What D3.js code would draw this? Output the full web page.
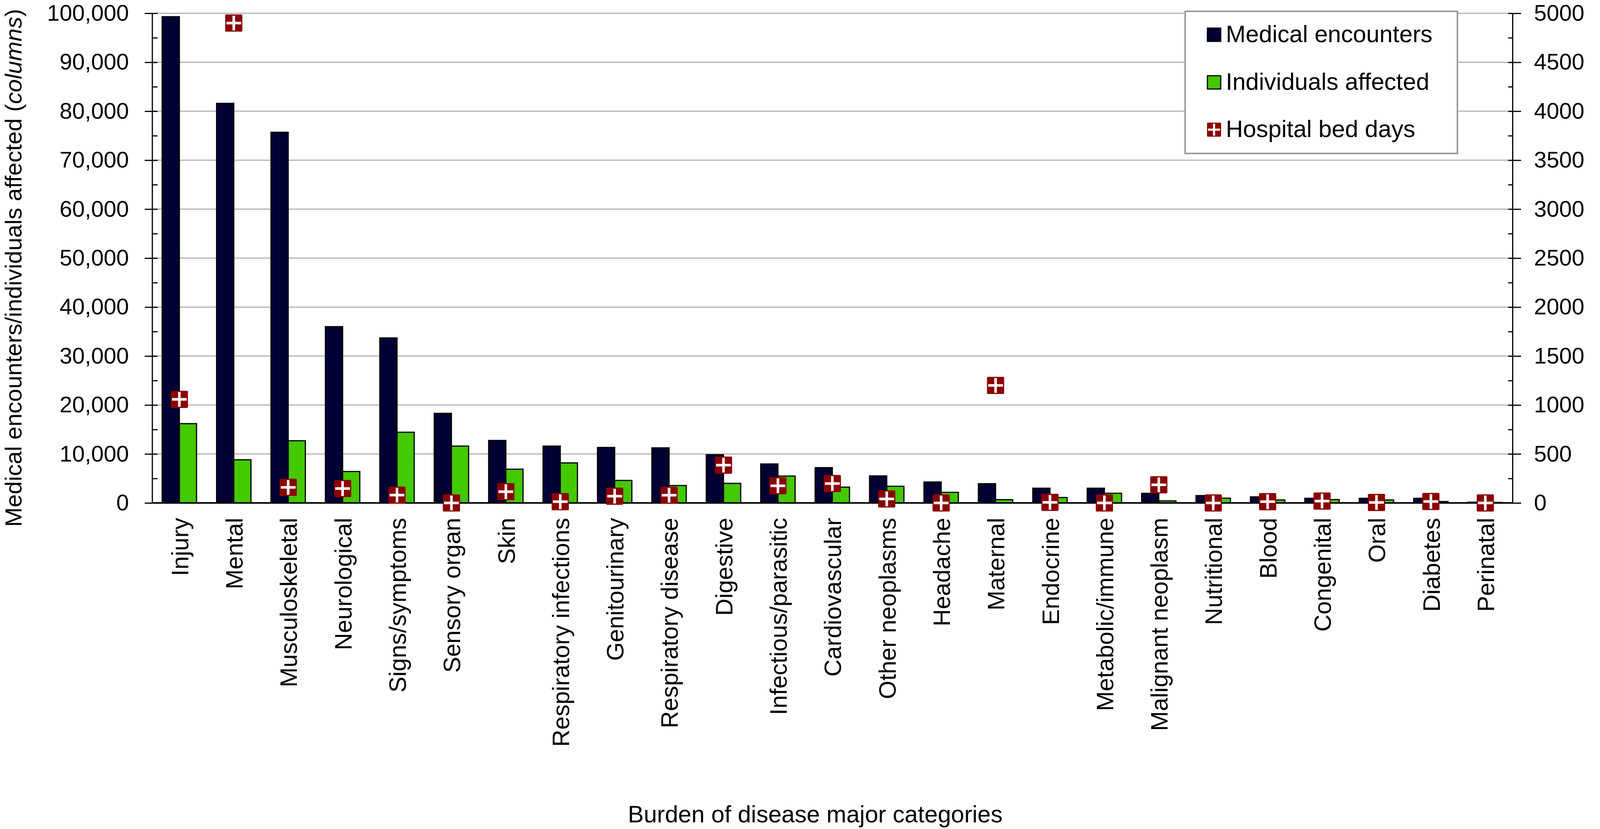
<!DOCTYPE html>
<html>
<head>
<meta charset="utf-8">
<script src="https://cdn.jsdelivr.net/npm/d3@7"></script>
<style>
  html, body { margin: 0; padding: 0; background: #ffffff; overflow: hidden; }
  svg { display: block; }
  text { font-family: "Liberation Sans", Arial, Helvetica, sans-serif; fill: #000; }
</style>
</head>
<body>
<svg id="chart" width="4210" height="2123" viewBox="0 0 4210 2123"></svg>
<script>
// ---------------- DATA ----------------
const categories = ["Injury", "Mental", "Musculoskeletal", "Neurological", "Signs/symptoms",
  "Sensory organ", "Skin", "Respiratory infections", "Genitourinary", "Respiratory disease",
  "Digestive", "Infectious/parasitic", "Cardiovascular", "Other neoplasms", "Headache",
  "Maternal", "Endocrine", "Metabolic/immune", "Malignant neoplasm", "Nutritional",
  "Blood", "Congenital", "Oral", "Diabetes", "Perinatal"];

const medicalEncounters = [99300, 81600, 75700, 36000, 33700, 18300, 12760, 11610, 11330, 11250,
  9840, 7960, 7210, 5520, 4280, 3930, 3010, 3010, 1960, 1500, 1240, 950, 950, 950, 150];

const individualsAffected = [16200, 8810, 12700, 6420, 14440, 11610, 6890, 8180, 4600, 3560,
  4000, 5490, 3230, 3410, 2160, 675, 1110, 1980, 420, 975, 610, 690, 610, 290, 100];

const hospitalBedDays = [1058, 4900, 159, 147, 80, 0, 115, 13, 69, 79,
  386, 175, 198, 41, 0, 1200, 6, 0, 185, 0, 13, 19, 5, 15, 0];

const leftTicks = [0, 10000, 20000, 30000, 40000, 50000, 60000, 70000, 80000, 90000, 100000];
const leftMinorTicks = [5000, 15000, 25000, 35000, 45000, 55000, 65000, 75000, 85000, 95000];
const rightTicks = [0, 500, 1000, 1500, 2000, 2500, 3000, 3500, 4000, 4500, 5000];
const rightMinorTicks = [250, 750, 1250, 1750, 2250, 2750, 3250, 3750, 4250, 4750];

const seriesNames = ["Medical encounters", "Individuals affected", "Hospital bed days"];

// ---------------- STYLE / LAYOUT ----------------
const navy = "#000033";
const green = "#44c800";
const red = "#8b0000";
const gridColor = "#b4b4b4";

const L = 389.5, R = 3872, T = 34, B = 1288;

const svg = d3.select("#chart");

const x = d3.scaleBand().domain(categories).range([L, R]).paddingInner(0).paddingOuter(0);
const x1 = d3.scaleBand().domain([0, 1]).range([-44, 44]).padding(0);
const yL = d3.scaleLinear().domain([0, 100000]).range([B, T]);
const yR = d3.scaleLinear().domain([0, 5000]).range([B, T]);

// gridlines
svg.append("g").selectAll("line").data(leftTicks.filter(d => d > 0)).join("line")
  .attr("x1", L).attr("x2", R)
  .attr("y1", d => yL(d)).attr("y2", d => yL(d))
  .attr("stroke", gridColor).attr("stroke-width", 3);

// bars
const series = [medicalEncounters, individualsAffected];
const colors = [navy, green];
const barG = svg.append("g");
series.forEach((vals, si) => {
  barG.append("g").selectAll("rect").data(categories).join("rect")
    .attr("x", (c) => x(c) + x.bandwidth() / 2 + x1(si))
    .attr("width", x1.bandwidth())
    .attr("y", (c, i) => yL(vals[i]))
    .attr("height", (c, i) => B - yL(vals[i]))
    .attr("fill", colors[si])
    .attr("stroke", "#000")
    .attr("stroke-width", 3);
});

// left axis (major crossing ticks)
const axL = svg.append("g").attr("transform", `translate(${L},0)`)
  .call(d3.axisLeft(yL).tickValues(leftTicks).tickSizeInner(19).tickSizeOuter(0)
    .tickPadding(40.5).tickFormat(d3.format(",")));
axL.select(".domain").attr("stroke", "#000").attr("stroke-width", 3);
axL.selectAll(".tick line").attr("x1", 14).attr("stroke", "#000").attr("stroke-width", 3);
axL.selectAll(".tick text").attr("font-size", 58).attr("font-family", null);
svg.append("g").attr("transform", `translate(${L},0)`)
  .call(d3.axisLeft(yL).tickValues(leftMinorTicks).tickSizeInner(-14).tickSizeOuter(0).tickFormat(""))
  .call(g => g.select(".domain").remove())
  .selectAll(".tick line").attr("stroke", "#000").attr("stroke-width", 3);

// right axis
const axR = svg.append("g").attr("transform", `translate(${R},0)`)
  .call(d3.axisRight(yR).tickValues(rightTicks).tickSizeInner(22).tickSizeOuter(0)
    .tickPadding(33).tickFormat(d3.format("d")));
axR.select(".domain").attr("stroke", "#000").attr("stroke-width", 3);
axR.selectAll(".tick line").attr("x1", -11).attr("stroke", "#000").attr("stroke-width", 3);
axR.selectAll(".tick text").attr("font-size", 58).attr("font-family", null);
svg.append("g").attr("transform", `translate(${R},0)`)
  .call(d3.axisRight(yR).tickValues(rightMinorTicks).tickSizeInner(-11).tickSizeOuter(0).tickFormat(""))
  .call(g => g.select(".domain").remove())
  .selectAll(".tick line").attr("stroke", "#000").attr("stroke-width", 3);

// bottom axis line
svg.append("line").attr("x1", L).attr("x2", R).attr("y1", B).attr("y2", B)
  .attr("stroke", "#000").attr("stroke-width", 4);

// category labels
svg.append("g").selectAll("text").data(categories).join("text")
  .attr("transform", c => `translate(${x(c) + x.bandwidth() / 2},1326) rotate(-90)`)
  .attr("text-anchor", "end")
  .attr("dy", "0.37em")
  .attr("font-size", 61)
  .text(c => c);

// marker drawing helper
function drawMarker(g, size) {
  const s = size, arm = s * 0.86, th = s * 0.15;
  g.append("rect").attr("x", -s / 2).attr("y", -s / 2).attr("width", s).attr("height", s)
    .attr("rx", s * 0.07).attr("fill", red);
  g.append("rect").attr("x", -arm / 2).attr("y", -th / 2).attr("width", arm).attr("height", th).attr("fill", "#fff");
  g.append("rect").attr("x", -th / 2).attr("y", -arm / 2).attr("width", th).attr("height", arm).attr("fill", "#fff");
}

// markers (hospital bed days, right axis)
svg.append("g").selectAll("g").data(categories).join("g")
  .attr("transform", (c, i) => `translate(${x(c) + x.bandwidth() / 2},${yR(hospitalBedDays[i])})`)
  .each(function () { drawMarker(d3.select(this), 44); });

// axis titles
const lt = svg.append("text")
  .attr("transform", "translate(55,686) rotate(-90)")
  .attr("text-anchor", "middle").attr("font-size", 60);
lt.append("tspan").text("Medical encounters/individuals affected (");
lt.append("tspan").attr("font-style", "italic").text("columns");
lt.append("tspan").text(")");

const rt = svg.append("text")
  .attr("transform", "translate(4190,650) rotate(-90)")
  .attr("text-anchor", "middle").attr("font-size", 60);
rt.append("tspan").text("Hospital bed days (");
rt.append("tspan").attr("font-style", "italic").text("markers");
rt.append("tspan").text(")");

svg.append("text").attr("x", 2087).attr("y", 2106)
  .attr("text-anchor", "middle").attr("font-size", 61)
  .text("Burden of disease major categories");

// legend
const lg = svg.append("g");
lg.append("rect").attr("x", 3034).attr("y", 29).attr("width", 697).attr("height", 364)
  .attr("fill", "#fff").attr("stroke", "#999").attr("stroke-width", 4);
const legendY = [89, 211, 332];
seriesNames.forEach((name, i) => {
  const cy = legendY[i];
  if (i < 2) {
    lg.append("rect").attr("x", 3091).attr("y", cy - 17).attr("width", 34).attr("height", 34)
      .attr("fill", colors[i]).attr("stroke", "#000").attr("stroke-width", 3);
  } else {
    const mg = lg.append("g").attr("transform", `translate(3108,${cy})`);
    drawMarker(mg, 36);
  }
  lg.append("text").attr("x", 3138).attr("y", cy + 19).attr("font-size", 61).text(name);
});
</script>
</body>
</html>
